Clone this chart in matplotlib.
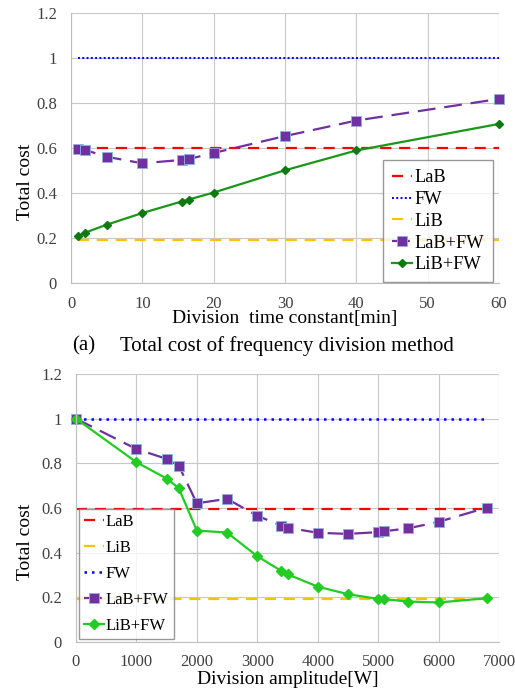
import matplotlib
matplotlib.use("Agg")
import matplotlib.pyplot as plt

plt.rcParams['font.family'] = ['Liberation Serif', 'DejaVu Serif']

# Top chart data (division time constant)
t_min = [1, 2, 5, 10, 15.5, 16.5, 20, 30, 40, 60]
t_lab_fw = [0.594, 0.591, 0.561, 0.532, 0.547, 0.551, 0.578, 0.653, 0.722, 0.818]
t_lib_fw = [0.208, 0.224, 0.259, 0.311, 0.362, 0.371, 0.402, 0.501, 0.589, 0.707]
t_lab, t_fw, t_lib = 0.598, 1.0, 0.191

# Bottom chart data (division amplitude)
a_w = [0, 1000, 1500, 1700, 2000, 2500, 3000, 3400, 3500, 4000, 4500, 5000, 5100, 5500, 6000, 6800]
a_lab_fw = [1.0, 0.864, 0.820, 0.790, 0.621, 0.641, 0.565, 0.521, 0.512, 0.489, 0.484, 0.492, 0.496, 0.509, 0.538, 0.602]
a_lib_fw = [1.0, 0.805, 0.732, 0.689, 0.499, 0.490, 0.384, 0.318, 0.303, 0.248, 0.214, 0.193, 0.192, 0.181, 0.177, 0.196]
a_lab, a_fw, a_lib = 0.597, 1.0, 0.193

caption_tag = "(a)"
caption = "Total cost of frequency division method"

W, H = 515, 693
fig = plt.figure(figsize=(W/100, H/100), dpi=100)

def ax_rect(l, t, r, b):
    return [l/W, 1 - b/H, (r-l)/W, (b-t)/H]

ax1 = fig.add_axes(ax_rect(71, 13, 499, 283))
ax2 = fig.add_axes(ax_rect(76, 374, 499, 642))

purple = '#7030A0'
tickc = '#404040'

def style(ax, ylab_x, xlab_y):
    ax.set_ylim(0, 1.2)
    ax.set_yticks([0, 0.2, 0.4, 0.6, 0.8, 1.0, 1.2])
    ax.set_yticklabels(['0', '0.2', '0.4', '0.6', '0.8', '1', '1.2'])
    ax.grid(True, color='#c8c8c8', linewidth=0.8)
    ax.set_axisbelow(True)
    for s in ['top', 'right']:
        ax.spines[s].set_visible(False)
    for s in ['left', 'bottom']:
        ax.spines[s].set_color('#bfbfbf')
    ax.tick_params(axis='y', length=0, labelsize=12, colors=tickc, pad=10)
    ax.tick_params(axis='x', length=0, labelsize=12, colors=tickc, pad=9)
    ax.set_ylabel('Total cost', fontsize=14)
    ax.yaxis.set_label_coords(ylab_x, 0.375)
    ax.xaxis.set_label_coords(0.5, xlab_y)

# Top
h_lab, = ax1.plot([t_min[0], t_min[-1]], [t_lab]*2, color='#FF0000', linestyle=(0, (5, 3.5)), lw=1.6, label='LaB')
h_fw, = ax1.plot([t_min[0], t_min[-1]], [t_fw]*2, color='#0000FF', linestyle=(0, (1, 1.2)), lw=1.4, label='FW')
h_lib, = ax1.plot([t_min[0], t_min[-1]], [t_lib]*2, color='#FFC000', linestyle=(0, (5, 3.5)), lw=1.6, label='LiB')
h_lf, = ax1.plot(t_min, t_lab_fw, color=purple, linestyle=(0, (8, 4)), lw=1.6, marker='s', ms=7,
                 mfc=purple, mec='#8ab4e0', mew=0.6, label='LaB+FW', clip_on=False)
h_gf, = ax1.plot(t_min, t_lib_fw, color='#1A961A', linestyle='-', lw=1.6, marker='D', ms=4.5,
                 mfc='#0E7A0E', mec='#0E7A0E', label='LiB+FW', clip_on=False)
ax1.set_xlim(0, 60)
ax1.set_xticks(range(0, 61, 10))
ax1.set_xlabel('Division  time constant[min]', fontsize=14, va='top')
style(ax1, -0.086, -0.100)
leg1 = ax1.legend(handles=[h_lab, h_fw, h_lib, h_lf, h_gf], loc='lower right',
                  bbox_to_anchor=(0.986, 0.002), fontsize=13.2, frameon=True, fancybox=False,
                  edgecolor='#808080', handlelength=1.1, handletextpad=0.1,
                  labelspacing=0.26, borderpad=0.5, borderaxespad=0.0)
leg1.get_frame().set_linewidth(1.0)

fig.text(72/W, 1 - 346/H, caption_tag, fontsize=15, ha='left', va='center')
fig.text(120/W, 1 - 346/H, caption, fontsize=15, ha='left', va='center')

# Bottom
b_lab, = ax2.plot([a_w[0], a_w[-1]], [a_lab]*2, color='#FF0000', linestyle=(0, (5, 3.5)), lw=1.6, label='LaB')
b_lib, = ax2.plot([a_w[0], a_w[-1]], [a_lib]*2, color='#FFC000', linestyle=(0, (5, 3.5)), lw=1.6, label='LiB')
b_fw, = ax2.plot([a_w[0], a_w[-1]], [a_fw]*2, color='#0000FF', linestyle=(0, (1, 2)), lw=1.8, label='FW')
b_lf, = ax2.plot(a_w, a_lab_fw, color=purple, linestyle=(0, (8, 4)), lw=1.6, marker='s', ms=7,
                 mfc=purple, mec='#8ab4e0', mew=0.6, label='LaB+FW', clip_on=False)
b_gf, = ax2.plot(a_w, a_lib_fw, color='#22CC22', linestyle='-', lw=1.6, marker='D', ms=5,
                 mfc='#22CC22', mec='#22CC22', label='LiB+FW', clip_on=False)
ax2.set_xlim(0, 7000)
ax2.set_xticks(range(0, 7001, 1000))
ax2.set_xlabel('Division amplitude[W]', fontsize=14, va='top')
style(ax2, -0.099, -0.108)
leg2 = ax2.legend(handles=[b_lab, b_lib, b_fw, b_lf, b_gf], loc='lower left',
                  bbox_to_anchor=(0.007, 0.01), fontsize=12, frameon=True, fancybox=False,
                  edgecolor='#808080', handlelength=1.2, handletextpad=0.1,
                  labelspacing=0.6, borderpad=0.3, borderaxespad=0.0)
leg2.get_frame().set_linewidth(1.0)

fig.savefig('out.png', dpi=100)
